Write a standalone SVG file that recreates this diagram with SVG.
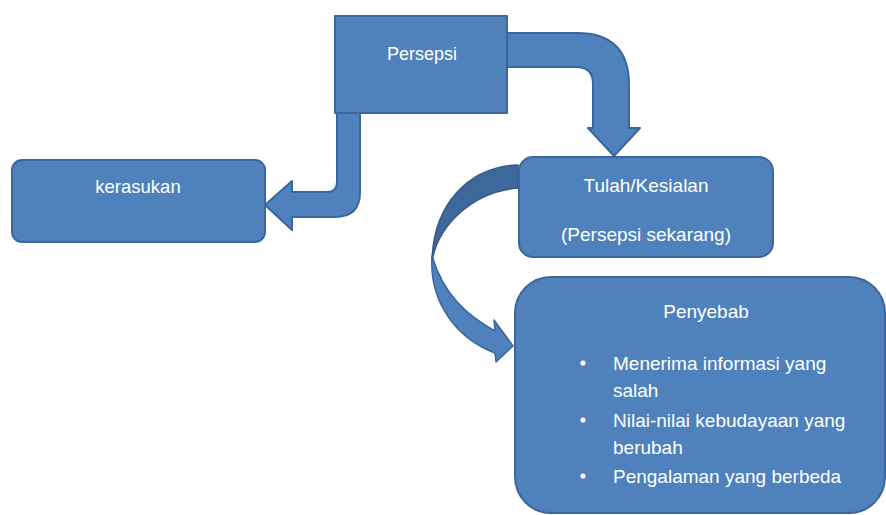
<svg xmlns="http://www.w3.org/2000/svg" width="886" height="515" viewBox="0 0 886 515">
<style>
.shape{fill:#4f81bd;stroke:#3c679a;stroke-width:2;stroke-linejoin:round}
.t{font-family:"Liberation Sans",Arial,sans-serif;fill:#ffffff;font-size:19px}
.c{text-anchor:middle}
</style>
<rect width="886" height="515" fill="#ffffff"/>
<g id="connectors">
<path class="shape" d="M507 33 L577 33 Q629 33 629 85 L629 128 L640 128 L614 156 L588 128 L593 128 L593 84 Q593 67 576 67 L507 67 Z"/>
<path class="shape" d="M337 113 L360 113 L360 192 Q360 217 335 217 L292 217 L292 230 L265 205 L292 181 L292 192 L327 192 Q337 192 337 182 Z"/>
<path d="M518 165 C468 167 433 205 432 262 C437 228 470 192 518 188 Z" fill="#3d6899" stroke="#345b88" stroke-width="1.5" stroke-linejoin="round"/>
<path d="M432 256 C429 304 458 339 495 353 L496 362 L513 346 L494 320 L495 331 C468 316 444 296 432 256 Z" fill="#4f81bd" stroke="#3c679a" stroke-width="1.5" stroke-linejoin="round"/>
</g>
<g id="persepsi">
<rect class="shape" x="335" y="16" width="172" height="97"/>
<text class="t c" x="422" y="60" style="font-size:18px">Persepsi</text>
</g>
<g id="kerasukan">
<rect class="shape" x="12" y="160" width="253" height="82" rx="10"/>
<text class="t c" x="138" y="193" style="font-size:18.5px">kerasukan</text>
</g>
<g id="tulah">
<rect class="shape" x="519" y="157" width="254" height="100" rx="14"/>
<text class="t c" x="646" y="192">Tulah/Kesialan</text>
<text class="t c" x="646" y="241">(Persepsi sekarang)</text>
</g>
<g id="penyebab">
<rect class="shape" x="515" y="277" width="370" height="236" rx="36"/>
<text class="t c" x="706" y="318">Penyebab</text>
<circle cx="583" cy="363" r="2.6" fill="#ffffff"/>
<circle cx="583" cy="420" r="2.6" fill="#ffffff"/>
<circle cx="583" cy="476" r="2.6" fill="#ffffff"/>
<text class="t" x="613" y="370">Menerima informasi yang</text>
<text class="t" x="613" y="397">salah</text>
<text class="t" x="613" y="427">Nilai-nilai kebudayaan yang</text>
<text class="t" x="613" y="454">berubah</text>
<text class="t" x="613" y="483">Pengalaman yang berbeda</text>
</g>
</svg>
